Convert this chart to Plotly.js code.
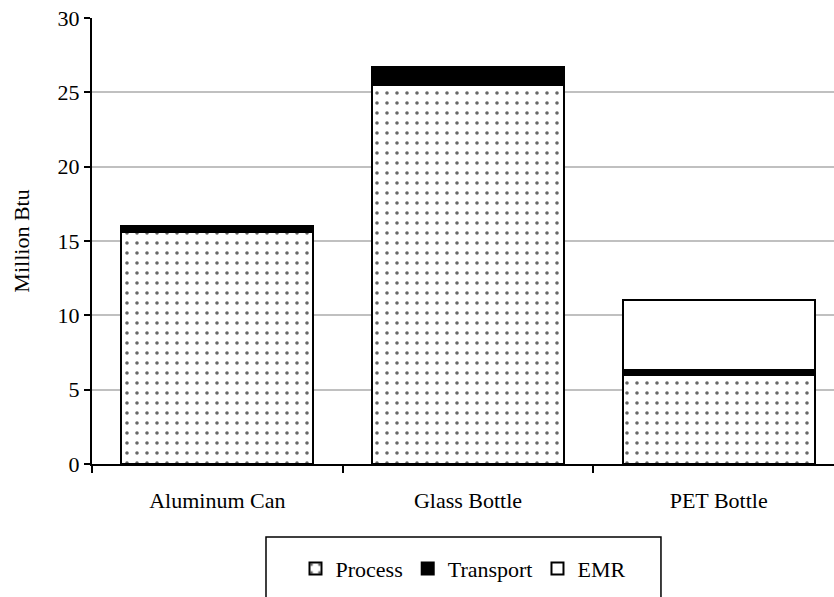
<!DOCTYPE html>
<html>
<head>
<meta charset="utf-8">
<script src="https://cdn.plot.ly/plotly-3.0.1.min.js"></script>
<style>html,body{margin:0;padding:0;background:#fff;}#chart{width:834px;height:597px;}</style>
</head>
<body>
<div id="chart"></div>
<script>
const categories = ["Aluminum Can", "Glass Bottle", "PET Bottle"];
const processVals = [15.6, 25.5, 6.0];
const transportVals = [0.4, 1.2, 0.3];
const emrVals = [0, 0, 4.7];
const yTicks = [0, 5, 10, 15, 20, 25, 30];

const FONT = "Liberation Serif, Times New Roman, serif";
const FS = 22;
const line = {color: "#000", width: 2};

const traces = [
  {type: "bar", name: "Process", x: categories, y: processVals,
   marker: {color: "#fff", line: line,
            pattern: {shape: ".", fgcolor: "#666", bgcolor: "#fff", size: 10, solidity: 0.1}}},
  {type: "bar", name: "Transport", x: categories, y: transportVals,
   marker: {color: "#000", line: line}},
  {type: "bar", name: "EMR", x: categories, y: emrVals,
   marker: {color: "#fff", line: line}}
];

const layout = {
  width: 834, height: 597,
  margin: {l: 92, r: 0, t: 18, b: 133},
  barmode: "stack", bargap: 0.235,
  paper_bgcolor: "#fff", plot_bgcolor: "#fff",
  font: {family: FONT, size: FS, color: "#000"},
  showlegend: true,
  hovermode: false,
  xaxis: {
    type: "category", range: [-0.5, 2.46], showgrid: false, showline: true, linecolor: "#000", linewidth: 2,
    ticks: "outside", tickson: "boundaries", ticklen: 7, tickcolor: "#000", tickwidth: 2,
    ticklabelstandoff: 16,
    tickfont: {family: FONT, size: FS}, fixedrange: true
  },
  yaxis: {
    range: [0, 30], tickvals: yTicks, ticktext: yTicks.map(String),
    showgrid: true, gridcolor: "#c0c0c0", gridwidth: 2, zeroline: false,
    showline: true, linecolor: "#000", linewidth: 2,
    ticks: "outside", ticklen: 6, tickcolor: "#000", tickwidth: 2,
    tickfont: {family: FONT, size: FS},
    title: {text: "Million Btu", font: {family: FONT, size: FS}, standoff: 22},
    fixedrange: true
  },
  legend: {
    orientation: "h", x: 0.5, xanchor: "center", y: -0.235, yanchor: "middle",
    font: {family: FONT, size: FS}, bgcolor: "rgba(0,0,0,0)", borderwidth: 0,
    traceorder: "normal", itemwidth: 30
  },
  shapes: [
    {type: "rect", xref: "paper", yref: "paper", x0: 0.2345, x1: 0.7668, y0: -0.1637, y1: -0.31,
     line: {color: "#000", width: 1.5}, fillcolor: "rgba(0,0,0,0)", layer: "above"}
  ]
};

Plotly.newPlot("chart", traces, layout, {displayModeBar: false, staticPlot: true});
</script>
</body>
</html>
